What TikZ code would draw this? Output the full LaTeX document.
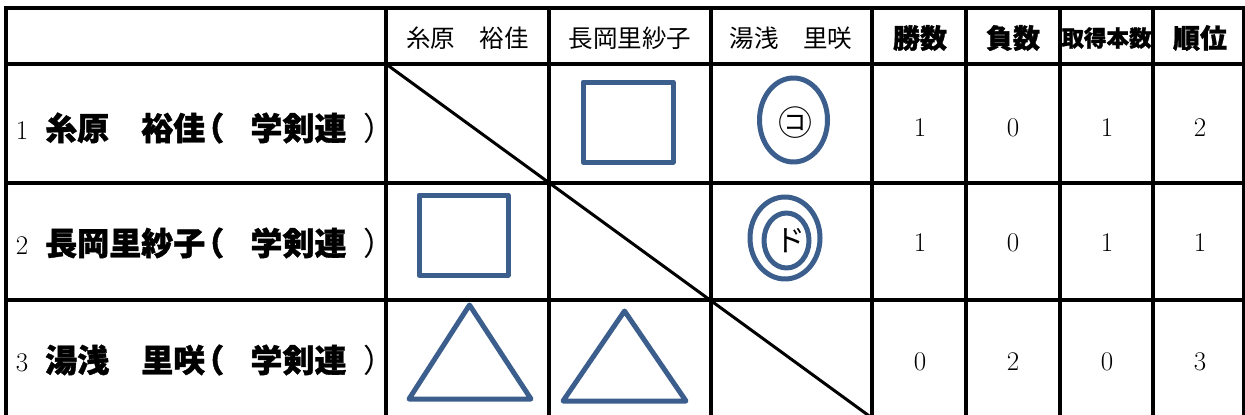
\documentclass[tikz,border=0pt]{standalone}
\usepackage{fontspec}
\newfontfamily\cjk{Noto Sans CJK JP}
\newfontfamily\cjkh{Noto Sans CJK JP}[BoldFeatures={FakeBold=1.2}]
\definecolor{markblue}{HTML}{3B5E8C}
\tikzset{
  grid/.style={line width=3.5pt, line cap=rect},
  diag/.style={line width=3pt},
  shapeln/.style={draw=markblue, line width=5pt, line join=round},
  hdr/.style={inner sep=0pt, font=\cjk\fontsize{24.5}{26}\selectfont},
  hdrb/.style={inner sep=0pt, font=\cjkh\bfseries\fontsize{27}{29}\selectfont},
  nm/.style={inner sep=0pt, font=\cjkh\bfseries\fontsize{32}{34}\selectfont},
  par/.style={inner sep=0pt, font=\cjk\fontsize{32}{34}\selectfont},
  num/.style={inner sep=0pt, font=\fontsize{27}{29}\selectfont},
  mk/.style={inner sep=0pt, font=\cjk\fontsize{34}{36}\selectfont}
}
\begin{document}
\begin{tikzpicture}[x=1pt,y=-1pt]
\useasboundingbox (0,0) rectangle (1245,415);
% grid
\foreach \yy in {8,64,183,300,418} \draw[grid] (6,\yy) -- (1244,\yy);
\foreach \xx in {6,386,549,711,872,966,1060,1153,1244} \draw[grid] (\xx,8) -- (\xx,418);
% diagonal
\coordinate (dA) at (386,64);
\coordinate (dB) at (872,418);
\draw[diag] (dA) -- (dB);
% header
\node[hdr] (h1) at (467.5,38) {糸原　裕佳};
\node[hdr] (h2) at (630,38) {長岡里紗子};
\node[hdr] (h3) at (791,38) {湯浅　里咲};
\node[hdrb] (h4) at (920,38) {勝数};
\node[hdrb] (h5) at (1013,38) {負数};
\node[hdrb,font=\cjkh\bfseries\fontsize{22.5}{24}\selectfont] (h6) at (1106.5,38) {取得本数};
\node[hdrb] (h7) at (1200,38) {順位};
% row labels
\foreach \r/\yy in {1/128,2/243,3/360} {
  \node[num] (n\r) at (22,\yy+3) {\r};
  \node[nm] (k\r) at (298.5,\yy) {学剣連};
  \node[par] (pc\r) at (379,\yy) {）};
}
\node[nm,anchor=west] (a1) at (45,128) {糸原　裕佳\kern-13pt（};
\node[nm,anchor=west] (a2) at (45,243) {長岡里紗子\kern-13pt（};
\node[nm,anchor=west] (a3) at (45,360) {湯浅　里咲\kern-13pt（};
% marks
\draw[shapeln] (583,82) rectangle (673,162);
\draw[shapeln] (419,195) rectangle (508,275);
\draw[shapeln] (793.5,120) ellipse [x radius=34, y radius=42];
\node[mk] (m1) at (795,123) {㋙};
\draw[shapeln] (785,238) ellipse [x radius=35, y radius=41];
\draw[shapeln] (786.5,240.5) ellipse [x radius=22.5, y radius=27.5];
\node[mk,font=\cjk\fontsize{30}{32}\selectfont] (m2) at (790,241) {ド};
\draw[shapeln] (469.5,305) -- (531,399) -- (409,399) -- cycle;
\draw[shapeln] (624.5,311) -- (686,401) -- (563,401) -- cycle;
% numbers
\node[num] (r1c1) at (920,127.5) {1};
\node[num] (r1c2) at (1013,127.5) {0};
\node[num] (r1c3) at (1107,127.5) {1};
\node[num] (r1c4) at (1200,127.5) {2};
\node[num] (r2c1) at (920,242.5) {1};
\node[num] (r2c2) at (1013,242.5) {0};
\node[num] (r2c3) at (1107,242.5) {1};
\node[num] (r2c4) at (1200,242.5) {1};
\node[num] (r3c1) at (920,362) {0};
\node[num] (r3c2) at (1013,362) {2};
\node[num] (r3c3) at (1107,362) {0};
\node[num] (r3c4) at (1200,362) {3};
\end{tikzpicture}
\end{document}
